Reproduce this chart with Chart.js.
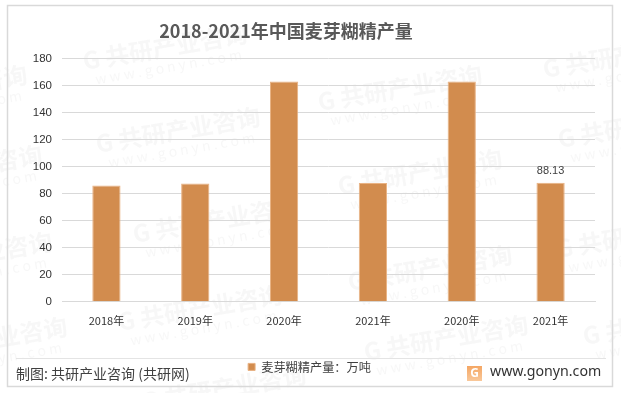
<!DOCTYPE html>
<html>
<head>
<meta charset="utf-8">
<title>麦芽糊精产量</title>
<script src="https://cdn.jsdelivr.net/npm/chart.js@4"></script>
<style>
    body { margin: 0; background: #fff; }
    #box { position: relative; width: 621px; height: 393px; }
</style>
</head>
<body>
<div id="box"><canvas id="chartMaltodextrin" width="621" height="393"></canvas></div>
<script>
const categories = ['2018年', '2019年', '2020年', '2021年', '2020年', '2021年'];
const produksi = [86, 87.5, 163, 88, 163, 88.13];
const yTicks = [0, 20, 40, 60, 80, 100, 120, 140, 160, 180];
const seriesName = '麦芽糊精产量：万吨';
const fontCjk = '"Noto Sans CJK SC", "Noto Sans", sans-serif';

// Posisi watermark di latar belakang (titik tengah)
const watermarks = [[165, 47], [178, 130], [400, 88], [625, 55], [-55, 88], [-40, 168], [640, 125], [420, 172],
    [-30, 255], [215, 220], [430, 268], [638, 235], [200, 308], [446, 338], [-15, 340], [665, 322], [224, 388]];

// Bingkai, watermark, garis footer, sumber dan logo
const backgroundPlugin = {
    id: 'background',
    afterLayout(chart) {
        // Judul dan legenda di gambar asli tidak persis di tengah
        chart.titleBlock.left = -49;
        chart.titleBlock.right = 621;
        chart.legend.left += 12;
        chart.legend.right += 12;
    },
    beforeDraw(chart) {
        const ctx = chart.ctx;
        ctx.save();
        watermarks.forEach(([x, y]) => {
            ctx.save();
            ctx.translate(x, y);
            ctx.rotate(-0.17);
            ctx.textAlign = 'center';
            ctx.fillStyle = 'rgba(120,120,120,0.06)';
            ctx.font = 'bold 24px ' + fontCjk;
            ctx.fillText('G 共研产业咨询', 0, 0);
            ctx.font = '14px ' + fontCjk;
            ctx.fillText('w w w . g o n y n . c o m', 0, 20);
            ctx.restore();
        });
        ctx.strokeStyle = '#d9d9d9';
        ctx.lineWidth = 1.5;
        ctx.strokeRect(7.5, 5.5, 605, 381);
        ctx.lineWidth = 1;
        ctx.strokeStyle = '#e4e4e4';
        ctx.beginPath();
        ctx.moveTo(16, 358.5);
        ctx.lineTo(606, 358.5);
        ctx.stroke();
        ctx.restore();
    },
    afterDraw(chart) {
        const ctx = chart.ctx;
        ctx.save();
        ctx.textBaseline = 'middle';
        ctx.fillStyle = '#404040';
        ctx.font = '14px ' + fontCjk;
        ctx.fillText('制图: 共研产业咨询 (共研网)', 16, 374);
        ctx.font = '14.2px "Noto Sans", sans-serif';
        ctx.fillStyle = '#333';
        ctx.fillText('www.gonyn.com', 490, 372);

        // Logo G
        const grad = ctx.createLinearGradient(0, 365, 0, 381);
        grad.addColorStop(0, '#f4a460');
        grad.addColorStop(1, '#f9c89a');
        ctx.fillStyle = grad;
        ctx.fillRect(467, 366, 15, 15);
        ctx.fillStyle = '#fff';
        ctx.font = 'bold 12px "Noto Sans", sans-serif';
        ctx.textAlign = 'center';
        ctx.fillText('G', 474.5, 373.5);

        // Label data hanya untuk batang terakhir
        const meta = chart.getDatasetMeta(0);
        const last = meta.data[meta.data.length - 1];
        ctx.fillStyle = '#404040';
        ctx.font = '11px "Liberation Sans", sans-serif';
        ctx.textBaseline = 'alphabetic';
        ctx.fillText(produksi[produksi.length - 1].toFixed(2), last.x, last.y - 9);
        ctx.restore();
    }
};

const ctxMalt = document.getElementById('chartMaltodextrin').getContext('2d');
new Chart(ctxMalt, {
    type: 'bar',
    data: {
        labels: categories,
        datasets: [{
            label: seriesName,
            data: produksi,
            backgroundColor: '#d28c4e',
            borderColor: '#e9b283',
            borderWidth: 1,
            barPercentage: 1,
            categoryPercentage: 0.318,
        }],
    },
    options: {
        responsive: false,
        animation: false,
        layout: { padding: { left: 0, right: 26, top: 0, bottom: 10 } },
        plugins: {
            tooltip: { enabled: false },
            title: {
                display: true,
                text: '2018-2021年中国麦芽糊精产量',
                color: '#595959',
                font: { family: fontCjk, size: 18, weight: 'bold' },
                padding: { top: 20, bottom: 17 },
            },
            legend: {
                position: 'bottom',
                labels: {
                    boxWidth: 7,
                    boxHeight: 7,
                    padding: 4,
                    color: '#404040',
                    font: { family: fontCjk, size: 12.2 },
                },
            },
        },
        scales: {
            x: {
                grid: { display: false },
                border: { color: '#d9d9d9' },
                ticks: { color: '#333333', font: { family: fontCjk, size: 11 }, padding: 4 },
                afterFit(scale) { scale.height = 55; },
            },
            y: {
                min: 0,
                max: 180,
                grid: { color: '#d9d9d9', drawTicks: false },
                border: { display: false },
                afterBuildTicks(scale) { scale.ticks = yTicks.map(v => ({ value: v })); },
                ticks: { color: '#333333', font: { family: '"Liberation Sans", sans-serif', size: 11.5 }, padding: 10 },
                afterFit(scale) { scale.width = 62; },
            },
        },
    },
    plugins: [backgroundPlugin],
});
</script>
</body>
</html>
